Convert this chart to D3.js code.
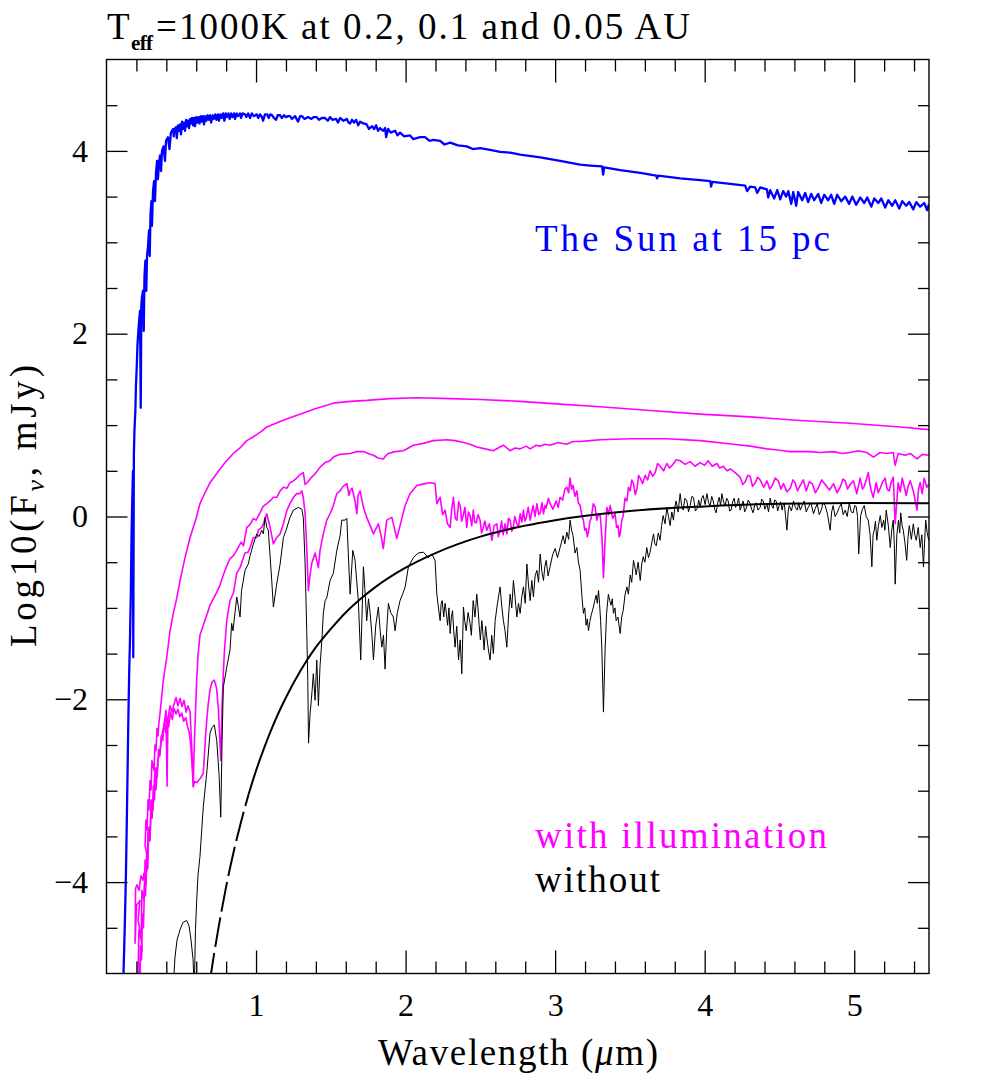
<!DOCTYPE html>
<html><head><meta charset="utf-8">
<script src="https://cdn.jsdelivr.net/npm/d3@7"></script>
<style>body{margin:0;background:#fff}</style>
</head><body>
<svg id="c" width="981" height="1090"></svg>
<script>
// ---------- data ----------
const xDomain = [0, 5.5];
const yDomain = [-5, 5];
const xMajorTicks = [1, 2, 3, 4, 5];
const xMinorTicks = [0.2,0.4,0.6,0.8,1.2,1.4,1.6,1.8,2.2,2.4,2.6,2.8,3.2,3.4,3.6,3.8,4.2,4.4,4.6,4.8,5.2,5.4];
const yMajorTicks = [-4, -2, 0, 2, 4];
const yMinorTicks = [-4.5,-3.5,-3,-2.5,-1.5,-1,-0.5,0.5,1,1.5,2.5,3,3.5,4.5];

const titleMain = "T";
const titleSub = "eff";
const titleRest = "=1000K at 0.2, 0.1 and 0.05 AU";
const sunLabel = "The Sun at 15 pc";
const illumLabel = "with illumination";
const withoutLabel = "without";

// The Sun at 15 pc (blue)
const sunSpectrum = [[0.112,-5.1],[0.118,-4.74],[0.124,-4.36],[0.130,-3.90],[0.136,-3.32],[0.141,-2.78],[0.146,-2.23],[0.152,-1.68],[0.157,-1.36],[0.163,-0.81],[0.167,-0.26],[0.172,0.17],[0.177,0.50],[0.179,-1.54],[0.183,0.67],[0.187,0.94],[0.193,1.16],[0.197,1.43],[0.202,1.63],[0.207,1.87],[0.213,2.03],[0.219,2.16],[0.224,2.25],[0.229,1.19],[0.233,2.31],[0.237,2.40],[0.244,2.47],[0.249,2.03],[0.254,2.63],[0.260,2.80],[0.266,2.47],[0.271,2.85],[0.278,2.96],[0.284,3.13],[0.289,2.85],[0.294,3.29],[0.300,3.45],[0.304,3.18],[0.311,3.56],[0.318,3.67],[0.324,3.45],[0.331,3.76],[0.338,3.89],[0.344,3.69],[0.351,3.87],[0.358,3.95],[0.365,3.78],[0.371,4.00],[0.381,4.05],[0.391,3.89],[0.398,4.11],[0.411,4.15],[0.421,4.02],[0.431,4.20],[0.445,4.24],[0.450,4.16],[0.455,4.24],[0.465,4.26],[0.470,4.14],[0.478,4.28],[0.485,4.22],[0.492,4.29],[0.498,4.18],[0.505,4.32],[0.512,4.24],[0.518,4.31],[0.525,4.22],[0.532,4.34],[0.540,4.27],[0.545,4.33],[0.552,4.25],[0.559,4.35],[0.566,4.30],[0.572,4.36],[0.579,4.28],[0.586,4.36],[0.592,4.27],[0.600,4.37],[0.607,4.31],[0.615,4.37],[0.622,4.30],[0.630,4.38],[0.637,4.32],[0.645,4.38],[0.652,4.29],[0.660,4.38],[0.668,4.33],[0.676,4.39],[0.684,4.34],[0.692,4.39],[0.700,4.31],[0.710,4.39],[0.718,4.35],[0.727,4.40],[0.735,4.34],[0.745,4.40],[0.752,4.33],[0.762,4.40],[0.770,4.36],[0.780,4.41],[0.788,4.33],[0.797,4.41],[0.805,4.37],[0.815,4.41],[0.824,4.35],[0.833,4.41],[0.842,4.37],[0.852,4.41],[0.860,4.35],[0.870,4.41],[0.880,4.38],[0.893,4.41],[0.900,4.36],[0.910,4.41],[0.926,4.40],[0.935,4.37],[0.947,4.41],[0.960,4.36],[0.972,4.41],[0.985,4.38],[1.005,4.40],[1.015,4.36],[1.027,4.40],[1.040,4.37],[1.047,4.33],[1.060,4.40],[1.074,4.40],[1.085,4.36],[1.095,4.40],[1.107,4.39],[1.120,4.36],[1.134,4.34],[1.145,4.39],[1.161,4.39],[1.172,4.36],[1.187,4.39],[1.200,4.37],[1.215,4.38],[1.227,4.38],[1.240,4.35],[1.261,4.38],[1.281,4.32],[1.295,4.38],[1.308,4.38],[1.325,4.35],[1.348,4.37],[1.370,4.35],[1.385,4.37],[1.406,4.37],[1.420,4.34],[1.440,4.36],[1.462,4.36],[1.480,4.33],[1.495,4.37],[1.510,4.34],[1.535,4.35],[1.548,4.31],[1.562,4.36],[1.585,4.33],[1.607,4.35],[1.618,4.31],[1.629,4.30],[1.642,4.34],[1.655,4.31],[1.669,4.34],[1.683,4.28],[1.696,4.32],[1.718,4.30],[1.740,4.29],[1.755,4.24],[1.776,4.27],[1.790,4.24],[1.803,4.28],[1.816,4.22],[1.829,4.25],[1.850,4.22],[1.863,4.25],[1.870,4.15],[1.883,4.24],[1.900,4.20],[1.930,4.22],[1.945,4.17],[1.963,4.20],[1.990,4.16],[2.030,4.17],[2.050,4.13],[2.097,4.15],[2.130,4.15],[2.160,4.11],[2.186,4.12],[2.231,4.11],[2.260,4.07],[2.298,4.09],[2.350,4.06],[2.409,4.05],[2.450,4.02],[2.498,4.03],[2.565,4.01],[2.632,3.99],[2.699,3.98],[2.766,3.96],[2.900,3.93],[3.033,3.89],[3.167,3.85],[3.234,3.84],[3.314,3.83],[3.321,3.74],[3.328,3.82],[3.435,3.79],[3.569,3.76],[3.676,3.73],[3.682,3.70],[3.689,3.73],[3.836,3.70],[3.970,3.68],[4.037,3.67],[4.043,3.61],[4.050,3.66],[4.171,3.64],[4.271,3.62],[4.284,3.56],[4.304,3.61],[4.338,3.60],[4.351,3.54],[4.371,3.60],[4.416,3.58],[4.425,3.49],[4.438,3.57],[4.465,3.48],[4.485,3.57],[4.505,3.47],[4.525,3.56],[4.545,3.50],[4.559,3.56],[4.579,3.42],[4.592,3.55],[4.612,3.40],[4.625,3.55],[4.652,3.46],[4.672,3.54],[4.692,3.44],[4.712,3.53],[4.732,3.46],[4.759,3.53],[4.779,3.43],[4.799,3.52],[4.826,3.46],[4.846,3.52],[4.866,3.42],[4.886,3.52],[4.913,3.45],[4.940,3.50],[4.966,3.42],[4.987,3.50],[5.013,3.41],[5.040,3.49],[5.067,3.43],[5.087,3.49],[5.114,3.39],[5.134,3.48],[5.161,3.43],[5.181,3.48],[5.207,3.38],[5.228,3.46],[5.254,3.40],[5.274,3.46],[5.301,3.37],[5.321,3.45],[5.348,3.40],[5.368,3.44],[5.395,3.36],[5.415,3.44],[5.441,3.39],[5.468,3.43],[5.488,3.35],[5.500,3.42]];

// With illumination, 0.05 AU (magenta, top)
const illum005 = [[0.231,-5.13],[0.224,-4.91],[0.237,-4.74],[0.231,-4.58],[0.211,-4.42],[0.224,-4.20],[0.201,-4.25],[0.191,-4.67],[0.194,-4.07],[0.204,-4.03],[0.217,-4.09],[0.231,-3.93],[0.244,-3.98],[0.251,-3.90],[0.264,-4.03],[0.271,-3.71],[0.258,-3.60],[0.264,-3.32],[0.271,-3.43],[0.278,-3.10],[0.284,-3.21],[0.291,-2.89],[0.298,-2.99],[0.304,-2.67],[0.318,-2.78],[0.324,-2.50],[0.331,-2.56],[0.338,-2.32],[0.344,-2.40],[0.351,-2.25],[0.358,-2.15],[0.380,-1.79],[0.403,-1.54],[0.425,-1.25],[0.447,-1.06],[0.470,-0.89],[0.492,-0.70],[0.525,-0.45],[0.559,-0.23],[0.603,0.00],[0.625,0.14],[0.659,0.26],[0.692,0.37],[0.737,0.47],[0.793,0.59],[0.848,0.69],[0.893,0.75],[0.938,0.83],[0.980,0.87],[1.027,0.92],[1.072,0.98],[1.161,1.04],[1.227,1.08],[1.294,1.12],[1.395,1.18],[1.517,1.24],[1.629,1.26],[1.740,1.27],[1.896,1.29],[2.075,1.30],[2.298,1.29],[2.498,1.28],[2.766,1.26],[3.033,1.23],[3.301,1.20],[3.635,1.16],[3.970,1.12],[4.304,1.09],[4.639,1.05],[4.973,1.02],[5.308,0.98],[5.500,0.95]];

// With illumination, 0.1 AU (magenta, middle)
const illum01 = [[0.210,-5.07],[0.217,-4.52],[0.231,-4.63],[0.237,-4.09],[0.251,-4.20],[0.258,-3.76],[0.271,-3.87],[0.278,-3.43],[0.291,-3.54],[0.298,-3.10],[0.311,-3.21],[0.324,-2.78],[0.331,-2.99],[0.344,-2.67],[0.358,-2.56],[0.371,-2.39],[0.385,-2.28],[0.398,-2.12],[0.405,-2.95],[0.411,-2.21],[0.425,-2.07],[0.438,-2.14],[0.452,-2.05],[0.465,-1.98],[0.478,-2.07],[0.492,-1.99],[0.505,-2.08],[0.518,-2.01],[0.532,-2.14],[0.545,-2.07],[0.559,-2.14],[0.565,-2.35],[0.572,-2.60],[0.580,-2.96],[0.587,-2.50],[0.595,-2.14],[0.603,-1.79],[0.612,-1.52],[0.625,-1.30],[0.647,-1.19],[0.670,-1.08],[0.692,-0.97],[0.714,-0.90],[0.737,-0.83],[0.759,-0.75],[0.781,-0.64],[0.804,-0.54],[0.826,-0.46],[0.848,-0.43],[0.871,-0.37],[0.900,-0.28],[0.916,-0.32],[0.938,-0.12],[0.960,-0.09],[0.982,-0.02],[1.000,-0.04],[1.027,0.04],[1.047,0.11],[1.072,0.14],[1.094,0.17],[1.116,0.21],[1.138,0.21],[1.161,0.28],[1.183,0.32],[1.207,0.31],[1.227,0.37],[1.250,0.39],[1.272,0.42],[1.294,0.46],[1.316,0.48],[1.328,0.35],[1.348,0.38],[1.361,0.41],[1.401,0.48],[1.428,0.54],[1.462,0.59],[1.495,0.61],[1.517,0.65],[1.562,0.68],[1.629,0.69],[1.674,0.71],[1.718,0.71],[1.763,0.68],[1.785,0.67],[1.816,0.64],[1.851,0.63],[1.870,0.67],[1.885,0.69],[1.930,0.71],[1.985,0.72],[2.052,0.78],[2.119,0.80],[2.186,0.83],[2.276,0.84],[2.331,0.83],[2.387,0.81],[2.431,0.79],[2.476,0.76],[2.532,0.74],[2.587,0.72],[2.619,0.75],[2.654,0.78],[2.699,0.72],[2.732,0.75],[2.766,0.74],[2.806,0.77],[2.833,0.74],[2.873,0.78],[2.900,0.77],[2.933,0.79],[2.966,0.78],[3.020,0.81],[3.078,0.79],[3.120,0.82],[3.167,0.82],[3.234,0.83],[3.301,0.84],[3.502,0.85],[3.747,0.85],[3.970,0.83],[4.193,0.79],[4.304,0.77],[4.416,0.74],[4.472,0.73],[4.527,0.72],[4.572,0.71],[4.639,0.71],[4.706,0.71],[4.773,0.70],[4.862,0.71],[4.920,0.69],[4.973,0.70],[5.027,0.72],[5.084,0.70],[5.129,0.65],[5.174,0.70],[5.214,0.69],[5.261,0.70],[5.274,0.56],[5.294,0.69],[5.341,0.67],[5.375,0.69],[5.420,0.63],[5.455,0.68],[5.498,0.67]];

// With illumination, 0.2 AU (magenta, bottom)
const illum02 = [[0.220,-5.10],[0.227,-4.70],[0.234,-4.85],[0.241,-4.35],[0.247,-4.50],[0.254,-4.05],[0.261,-4.15],[0.268,-3.70],[0.276,-3.85],[0.283,-3.40],[0.290,-3.55],[0.298,-3.20],[0.305,-3.30],[0.313,-2.95],[0.321,-3.10],[0.330,-2.75],[0.339,-2.85],[0.348,-2.55],[0.357,-2.62],[0.366,-2.40],[0.376,-2.45],[0.386,-2.26],[0.396,-2.36],[0.406,-2.20],[0.416,-2.30],[0.428,-2.14],[0.440,-2.22],[0.452,-2.10],[0.465,-2.16],[0.478,-2.11],[0.490,-2.19],[0.503,-2.15],[0.516,-2.24],[0.530,-2.20],[0.542,-2.30],[0.553,-2.36],[0.562,-2.48],[0.570,-2.66],[0.577,-2.85],[0.581,-2.95],[0.590,-2.90],[0.605,-2.91],[0.625,-2.87],[0.647,-2.81],[0.665,-2.34],[0.679,-2.07],[0.692,-1.90],[0.706,-1.81],[0.721,-1.79],[0.736,-1.88],[0.749,-2.12],[0.758,-2.45],[0.764,-2.67],[0.773,-2.07],[0.781,-1.72],[0.789,-1.46],[0.804,-1.14],[0.826,-0.92],[0.848,-0.84],[0.871,-0.62],[0.893,-0.56],[0.915,-0.45],[0.926,-0.40],[0.946,-0.39],[0.960,-0.34],[0.982,-0.23],[1.005,-0.23],[1.015,-0.15],[1.038,-0.12],[1.049,-0.08],[1.072,0.03],[1.094,-0.12],[1.116,-0.30],[1.138,-0.23],[1.161,-0.19],[1.183,-0.08],[1.207,0.07],[1.227,0.14],[1.250,0.21],[1.272,0.25],[1.294,0.25],[1.306,0.28],[1.316,0.21],[1.328,0.03],[1.339,-0.34],[1.350,-0.81],[1.361,-0.64],[1.373,-0.51],[1.395,-0.40],[1.417,-0.56],[1.428,-0.37],[1.450,-0.19],[1.473,-0.04],[1.495,0.03],[1.517,0.12],[1.540,0.25],[1.562,0.28],[1.582,0.33],[1.607,0.36],[1.622,0.23],[1.629,0.28],[1.642,0.31],[1.662,0.17],[1.674,0.03],[1.682,0.23],[1.696,0.28],[1.718,0.10],[1.740,-0.01],[1.763,-0.10],[1.785,-0.19],[1.818,-0.08],[1.836,-0.21],[1.851,-0.35],[1.874,-0.04],[1.908,-0.01],[1.941,-0.24],[1.963,-0.10],[1.997,0.12],[2.030,0.25],[2.075,0.34],[2.130,0.36],[2.164,0.37],[2.197,0.36],[2.209,0.14],[2.231,0.21],[2.248,0.02],[2.264,0.07],[2.280,-0.08],[2.298,-0.12],[2.310,0.10],[2.320,0.21],[2.332,-0.02],[2.343,-0.04],[2.355,0.16],[2.365,0.12],[2.375,-0.05],[2.385,0.01],[2.397,0.10],[2.409,-0.12],[2.420,0.05],[2.431,0.01],[2.442,-0.10],[2.453,0.07],[2.462,-0.06],[2.472,-0.07],[2.485,0.02],[2.498,-0.04],[2.508,-0.18],[2.518,-0.13],[2.530,-0.05],[2.543,-0.15],[2.560,-0.08],[2.577,-0.26],[2.592,-0.10],[2.610,-0.08],[2.620,-0.22],[2.632,-0.15],[2.642,-0.05],[2.652,-0.20],[2.665,-0.08],[2.677,-0.19],[2.688,-0.02],[2.699,-0.04],[2.710,-0.16],[2.719,-0.13],[2.730,0.00],[2.744,-0.08],[2.755,-0.12],[2.766,0.03],[2.778,-0.06],[2.788,0.07],[2.797,-0.05],[2.806,-0.02],[2.820,0.10],[2.833,-0.04],[2.845,0.06],[2.853,0.12],[2.866,0.00],[2.878,0.14],[2.890,0.02],[2.900,0.04],[2.912,0.15],[2.922,0.03],[2.932,0.12],[2.940,0.09],[2.955,0.20],[2.966,0.14],[2.985,0.08],[3.007,0.17],[3.020,0.10],[3.033,0.21],[3.050,0.18],[3.065,0.30],[3.078,0.32],[3.090,0.26],[3.100,0.42],[3.110,0.30],[3.120,0.34],[3.132,0.22],[3.145,0.28],[3.155,0.15],[3.167,0.12],[3.178,0.02],[3.189,-0.04],[3.198,-0.15],[3.207,-0.13],[3.215,-0.22],[3.223,-0.17],[3.232,-0.05],[3.241,-0.02],[3.255,0.14],[3.268,0.10],[3.278,-0.04],[3.288,0.01],[3.301,0.03],[3.314,-0.26],[3.323,-0.67],[3.334,-0.26],[3.346,0.10],[3.357,0.02],[3.368,0.12],[3.385,-0.02],[3.401,0.03],[3.411,-0.12],[3.421,-0.10],[3.428,-0.22],[3.435,-0.19],[3.445,-0.05],[3.455,0.01],[3.467,0.20],[3.480,0.17],[3.490,0.32],[3.502,0.28],[3.512,0.40],[3.524,0.36],[3.536,0.24],[3.548,0.31],[3.558,0.45],[3.569,0.42],[3.585,0.36],[3.602,0.45],[3.618,0.40],[3.635,0.50],[3.652,0.44],[3.669,0.48],[3.685,0.58],[3.702,0.55],[3.725,0.50],[3.747,0.58],[3.765,0.53],[3.783,0.56],[3.810,0.62],[3.836,0.61],[3.870,0.57],[3.903,0.60],[3.935,0.55],[3.970,0.59],[4.000,0.56],[4.023,0.61],[4.050,0.55],[4.082,0.58],[4.100,0.53],[4.124,0.55],[4.150,0.50],[4.171,0.52],[4.204,0.48],[4.237,0.43],[4.255,0.35],[4.271,0.38],[4.288,0.45],[4.304,0.44],[4.320,0.33],[4.338,0.37],[4.355,0.43],[4.371,0.40],[4.395,0.32],[4.416,0.39],[4.435,0.30],[4.452,0.34],[4.472,0.42],[4.492,0.39],[4.510,0.30],[4.527,0.36],[4.550,0.27],[4.572,0.31],[4.590,0.40],[4.605,0.37],[4.620,0.28],[4.639,0.34],[4.660,0.40],[4.679,0.28],[4.700,0.38],[4.719,0.36],[4.740,0.26],[4.759,0.31],[4.782,0.40],[4.806,0.35],[4.835,0.29],[4.862,0.36],[4.885,0.26],[4.906,0.32],[4.925,0.41],[4.940,0.39],[4.955,0.30],[4.973,0.35],[4.995,0.39],[5.017,0.25],[5.040,0.42],[5.055,0.30],[5.067,0.33],[5.080,0.40],[5.094,0.48],[5.105,0.35],[5.114,0.28],[5.127,0.21],[5.147,0.37],[5.160,0.26],[5.174,0.31],[5.190,0.38],[5.207,0.42],[5.220,0.30],[5.234,0.28],[5.248,0.38],[5.261,0.43],[5.274,-0.08],[5.294,0.37],[5.308,0.27],[5.321,0.42],[5.335,0.32],[5.348,0.23],[5.360,0.33],[5.375,0.39],[5.395,0.28],[5.420,0.07],[5.430,0.30],[5.441,0.37],[5.455,0.25],[5.468,0.42],[5.485,0.32],[5.497,0.35]];

// Without illumination (black, thin)
const noIllum = [[0.447,-5.13],[0.458,-4.82],[0.472,-4.63],[0.492,-4.52],[0.512,-4.44],[0.536,-4.42],[0.552,-4.48],[0.565,-4.63],[0.579,-4.85],[0.587,-5.18],[0.595,-4.52],[0.603,-4.20],[0.612,-3.92],[0.625,-3.72],[0.647,-3.18],[0.670,-2.81],[0.692,-2.37],[0.706,-2.31],[0.721,-2.28],[0.737,-2.45],[0.753,-2.83],[0.764,-3.29],[0.773,-2.45],[0.781,-1.87],[0.804,-1.65],[0.826,-1.46],[0.837,-1.17],[0.846,-1.25],[0.871,-0.88],[0.880,-0.97],[0.893,-1.10],[0.903,-0.81],[0.915,-0.70],[0.926,-0.59],[0.948,-0.52],[0.960,-0.43],[0.982,-0.30],[1.005,-0.19],[1.020,-0.22],[1.038,-0.15],[1.049,-0.19],[1.060,-0.01],[1.072,-0.12],[1.082,-0.15],[1.105,-0.70],[1.116,-0.99],[1.138,-0.74],[1.161,-0.52],[1.183,-0.23],[1.201,-0.15],[1.227,-0.01],[1.250,0.07],[1.283,0.10],[1.306,0.08],[1.316,-0.01],[1.328,-0.51],[1.339,-1.25],[1.346,-1.79],[1.351,-2.48],[1.361,-2.17],[1.375,-1.90],[1.383,-1.72],[1.395,-2.01],[1.406,-1.57],[1.417,-2.07],[1.428,-1.63],[1.440,-1.36],[1.450,-1.06],[1.462,-0.92],[1.473,-0.89],[1.495,-0.70],[1.517,-0.62],[1.540,-0.37],[1.562,-0.21],[1.573,-0.04],[1.595,-0.04],[1.607,-0.02],[1.617,-0.41],[1.629,-0.85],[1.647,-0.37],[1.662,-0.48],[1.684,-0.92],[1.700,-1.57],[1.718,-0.55],[1.728,-0.80],[1.740,-1.14],[1.752,-0.90],[1.763,-1.06],[1.775,-1.30],[1.785,-1.57],[1.800,-1.20],[1.818,-0.99],[1.830,-1.25],[1.841,-1.43],[1.852,-1.30],[1.863,-1.67],[1.875,-1.20],[1.885,-0.95],[1.900,-1.05],[1.918,-1.10],[1.930,-1.25],[1.945,-1.05],[1.963,-0.92],[1.980,-0.85],[1.997,-0.77],[2.019,-0.55],[2.052,-0.45],[2.084,-0.40],[2.119,-0.39],[2.152,-0.45],[2.175,-0.41],[2.197,-0.48],[2.209,-0.85],[2.220,-1.00],[2.231,-1.14],[2.238,-0.95],[2.245,-0.92],[2.255,-1.10],[2.264,-0.95],[2.272,-1.05],[2.281,-1.19],[2.290,-1.00],[2.298,-1.28],[2.306,-1.10],[2.314,-1.03],[2.322,-1.25],[2.331,-1.43],[2.342,-1.20],[2.354,-1.57],[2.365,-1.35],[2.376,-1.72],[2.387,-0.99],[2.396,-1.15],[2.405,-1.25],[2.418,-1.05],[2.431,-1.17],[2.440,-1.30],[2.452,-0.92],[2.464,-1.10],[2.476,-0.85],[2.484,-1.00],[2.492,-1.19],[2.500,-1.35],[2.510,-1.14],[2.518,-1.30],[2.525,-1.46],[2.535,-1.20],[2.543,-1.32],[2.553,-1.45],[2.565,-1.57],[2.576,-1.30],[2.587,-1.50],[2.599,-1.14],[2.610,-1.00],[2.621,-0.88],[2.632,-0.77],[2.643,-0.98],[2.654,-1.14],[2.665,-1.25],[2.677,-1.43],[2.688,-1.10],[2.699,-0.85],[2.710,-1.00],[2.721,-0.70],[2.733,-0.90],[2.744,-1.10],[2.755,-0.95],[2.766,-1.06],[2.777,-0.88],[2.788,-0.77],[2.800,-0.95],[2.811,-0.52],[2.822,-0.75],[2.833,-0.92],[2.844,-0.70],[2.855,-0.88],[2.866,-0.65],[2.878,-0.59],[2.889,-0.72],[2.900,-0.41],[2.911,-0.60],[2.922,-0.70],[2.931,-0.55],[2.940,-0.48],[2.953,-0.65],[2.966,-0.55],[2.983,-0.42],[3.000,-0.35],[3.016,-0.45],[3.033,-0.34],[3.043,-0.28],[3.053,-0.21],[3.065,-0.30],[3.078,-0.17],[3.090,-0.25],[3.100,-0.04],[3.110,-0.15],[3.120,-0.21],[3.133,-0.40],[3.145,-0.34],[3.156,-0.50],[3.167,-0.59],[3.178,-0.85],[3.189,-1.06],[3.198,-1.00],[3.207,-1.19],[3.215,-1.12],[3.223,-1.25],[3.232,-1.15],[3.241,-1.08],[3.256,-0.99],[3.265,-0.92],[3.274,-0.86],[3.282,-0.95],[3.290,-0.81],[3.297,-0.95],[3.304,-1.14],[3.312,-1.43],[3.323,-2.14],[3.334,-1.46],[3.344,-1.06],[3.356,-0.85],[3.365,-0.92],[3.374,-0.97],[3.382,-0.90],[3.390,-1.06],[3.400,-1.00],[3.408,-1.14],[3.420,-1.10],[3.435,-1.28],[3.445,-1.10],[3.455,-1.03],[3.468,-0.85],[3.480,-0.77],[3.490,-0.85],[3.502,-0.64],[3.512,-0.72],[3.524,-0.48],[3.533,-0.55],[3.542,-0.64],[3.555,-0.50],[3.569,-0.70],[3.579,-0.52],[3.589,-0.44],[3.600,-0.50],[3.613,-0.34],[3.624,-0.45],[3.635,-0.39],[3.647,-0.28],[3.658,-0.19],[3.667,-0.30],[3.676,-0.32],[3.690,-0.18],[3.702,-0.26],[3.712,-0.10],[3.722,0.01],[3.735,-0.08],[3.747,0.10],[3.758,0.00],[3.769,-0.10],[3.780,0.05],[3.791,-0.04],[3.800,0.10],[3.809,0.17],[3.822,0.05],[3.836,0.25],[3.846,0.12],[3.856,0.07],[3.868,0.20],[3.881,0.17],[3.892,0.05],[3.903,0.12],[3.914,0.22],[3.925,0.21],[3.938,0.06],[3.950,0.09],[3.960,0.18],[3.970,0.10],[3.980,0.20],[3.990,0.23],[4.003,0.13],[4.015,0.25],[4.026,0.15],[4.037,0.12],[4.047,0.22],[4.057,0.17],[4.067,0.08],[4.077,0.04],[4.087,0.15],[4.097,0.21],[4.106,0.12],[4.115,0.25],[4.126,0.16],[4.137,0.12],[4.147,0.20],[4.157,0.17],[4.167,0.06],[4.177,0.07],[4.187,0.16],[4.197,0.20],[4.207,0.10],[4.217,0.14],[4.227,0.20],[4.237,0.07],[4.247,0.12],[4.257,0.17],[4.267,0.05],[4.278,0.09],[4.291,0.18],[4.304,0.14],[4.314,0.08],[4.324,0.04],[4.334,0.12],[4.344,0.15],[4.357,0.07],[4.371,0.10],[4.381,0.19],[4.391,0.17],[4.403,0.08],[4.416,0.14],[4.427,0.05],[4.438,0.20],[4.448,0.12],[4.458,0.09],[4.468,0.18],[4.478,0.17],[4.488,0.06],[4.498,0.12],[4.508,0.16],[4.518,0.07],[4.525,0.13],[4.532,0.15],[4.541,0.00],[4.550,-0.15],[4.558,0.05],[4.565,0.12],[4.580,0.06],[4.594,0.17],[4.606,0.10],[4.619,0.07],[4.629,0.15],[4.639,0.07],[4.652,0.12],[4.666,0.17],[4.679,0.05],[4.692,0.10],[4.710,0.15],[4.728,0.03],[4.740,0.09],[4.753,0.14],[4.766,0.02],[4.779,0.07],[4.792,0.15],[4.806,0.12],[4.822,0.02],[4.839,-0.15],[4.849,0.05],[4.859,0.12],[4.872,0.00],[4.886,0.04],[4.900,0.10],[4.913,0.14],[4.926,0.02],[4.940,0.07],[4.953,0.00],[4.967,0.15],[4.980,0.05],[4.993,0.04],[5.003,0.12],[5.013,0.11],[5.022,0.00],[5.030,-0.41],[5.043,0.01],[5.055,0.08],[5.067,0.12],[5.080,0.00],[5.094,-0.04],[5.106,-0.20],[5.118,-0.55],[5.126,-0.20],[5.134,-0.15],[5.142,-0.05],[5.151,-0.26],[5.162,-0.10],[5.174,0.01],[5.185,-0.12],[5.197,-0.04],[5.205,-0.15],[5.214,0.07],[5.228,-0.10],[5.241,-0.34],[5.251,-0.15],[5.261,-0.04],[5.268,-0.30],[5.274,-0.74],[5.285,-0.20],[5.296,-0.04],[5.304,-0.18],[5.311,0.04],[5.320,-0.10],[5.328,-0.15],[5.340,-0.30],[5.351,-0.48],[5.360,-0.22],[5.368,-0.10],[5.382,-0.25],[5.395,-0.08],[5.405,-0.20],[5.415,-0.26],[5.428,-0.12],[5.441,-0.34],[5.452,-0.20],[5.463,-0.55],[5.470,-0.30],[5.478,-0.04],[5.488,-0.18],[5.498,-0.26]];

// Smooth black curve (dashed at the faint end, then solid)
const smoothDashed = [[0.69,-5.1],[0.70,-4.99],[0.72,-4.78],[0.75,-4.49],[0.77,-4.31],[0.80,-4.05],[0.85,-3.67],[0.90,-3.34],[0.95,-3.04]];
const smoothSolid = [[0.95,-3.04],[1.00,-2.78],[1.05,-2.55],[1.10,-2.34],[1.15,-2.15],[1.20,-1.98],[1.30,-1.68],[1.40,-1.43],[1.50,-1.23],[1.60,-1.05],[1.70,-0.90],[1.80,-0.77],[2.00,-0.56],[2.20,-0.40],[2.50,-0.22],[2.80,-0.10],[3.00,-0.04],[3.50,0.06],[4.00,0.11],[4.50,0.14],[5.00,0.147],[5.50,0.145]];

// ---------- drawing ----------
const FONT = "'Liberation Serif','DejaVu Serif','Times New Roman',serif";
const plot = {l:106.5, r:929, t:59.5, b:973.5};
const x = d3.scaleLinear().domain(xDomain).range([plot.l, plot.r]);
const y = d3.scaleLinear().domain(yDomain).range([plot.b, plot.t]);
const svg = d3.select("#c");

svg.append("rect").attr("width",981).attr("height",1090).attr("fill","#fff");
svg.append("defs").append("clipPath").attr("id","clip")
  .append("rect").attr("x",plot.l).attr("y",plot.t).attr("width",plot.r-plot.l).attr("height",plot.b-plot.t);

const g = svg.append("g").attr("clip-path","url(#clip)");
const line = d3.line().x(d=>x(d[0])).y(d=>y(d[1]));
const smooth = d3.line().x(d=>x(d[0])).y(d=>y(d[1])).curve(d3.curveMonotoneX);

function draw(data, gen, color, w, dash){
  const p = g.append("path").datum(data).attr("d",gen).attr("fill","none")
    .attr("stroke",color).attr("stroke-width",w).attr("stroke-linejoin","round");
  if(dash) p.attr("stroke-dasharray",dash);
}
draw(sunSpectrum, line, "#0000ff", 2.3);
draw(illum005, line, "#ff00ff", 1.6);
draw(illum01, line, "#ff00ff", 1.6);
draw(illum02, line, "#ff00ff", 1.6);
draw(noIllum, line, "#000", 1);
draw(smoothDashed, smooth, "#000", 2, "30,6");
draw(smoothSolid, smooth, "#000", 2);

// axes
function addAxis(axis, transform){
  const ga = svg.append("g").attr("transform",transform).call(axis);
  ga.select(".domain").remove();
  ga.selectAll("line").attr("stroke","#000").attr("stroke-width",1.3);
  ga.selectAll("text").attr("font-family",FONT).attr("font-size",32).attr("fill","#000");
  return ga;
}
const fmt = d3.format("d");
addAxis(d3.axisBottom(x).tickValues(xMajorTicks).tickSize(-23).tickPadding(20).tickFormat(fmt), `translate(0,${plot.b})`);
addAxis(d3.axisBottom(x).tickValues(xMinorTicks).tickSize(-12).tickFormat(""), `translate(0,${plot.b})`);
addAxis(d3.axisTop(x).tickValues(xMajorTicks).tickSize(-23).tickFormat(""), `translate(0,${plot.t})`);
addAxis(d3.axisTop(x).tickValues(xMinorTicks).tickSize(-12).tickFormat(""), `translate(0,${plot.t})`);
addAxis(d3.axisLeft(y).tickValues(yMajorTicks).tickSize(-21).tickPadding(18.5).tickFormat(fmt), `translate(${plot.l},0)`);
addAxis(d3.axisLeft(y).tickValues(yMinorTicks).tickSize(-11).tickFormat(""), `translate(${plot.l},0)`);
addAxis(d3.axisRight(y).tickValues(yMajorTicks).tickSize(-21).tickFormat(""), `translate(${plot.r},0)`);
addAxis(d3.axisRight(y).tickValues(yMinorTicks).tickSize(-11).tickFormat(""), `translate(${plot.r},0)`);

svg.append("rect").attr("x",plot.l).attr("y",plot.t).attr("width",plot.r-plot.l).attr("height",plot.b-plot.t)
  .attr("fill","none").attr("stroke","#000").attr("stroke-width",1.4);

// texts
function txt(s, px, py, size, color, len){
  const t = svg.append("text").attr("x",px).attr("y",py).attr("font-family",FONT)
    .attr("font-size",size).attr("fill",color).text(s);
  if(len){ t.attr("textLength",len).attr("lengthAdjust","spacing"); }
  return t;
}
txt(titleMain, 107, 39, 37, "#000");
txt(titleSub, 131, 50, 21, "#000", 22).attr("font-weight","bold");
txt(titleRest, 156, 39, 37, "#000", 534);
txt(sunLabel, 535, 251, 37, "#0000ff", 295);
txt(illumLabel, 535, 848, 37, "#ff00ff", 292);
txt(withoutLabel, 535, 892, 37, "#000", 125);

// x label
const xl = svg.append("text").attr("x",378).attr("y",1065).attr("font-family",FONT).attr("font-size",37)
  .attr("fill","#000").attr("textLength",280).attr("lengthAdjust","spacing");
xl.append("tspan").text("Wavelength (");
xl.append("tspan").attr("font-style","italic").text("\u03bc");
xl.append("tspan").text("m)");

// y label
const yl = svg.append("text").attr("transform","translate(36,647) rotate(-90)")
  .attr("font-family",FONT).attr("font-size",37).attr("fill","#000")
  .attr("textLength",282).attr("lengthAdjust","spacing");
yl.append("tspan").text("Log10(F");
yl.append("tspan").attr("font-size",26).attr("font-style","italic").attr("dy",8).text("\u03bd");
yl.append("tspan").attr("dy",-8).text(", mJy)");
</script>
</body></html>
